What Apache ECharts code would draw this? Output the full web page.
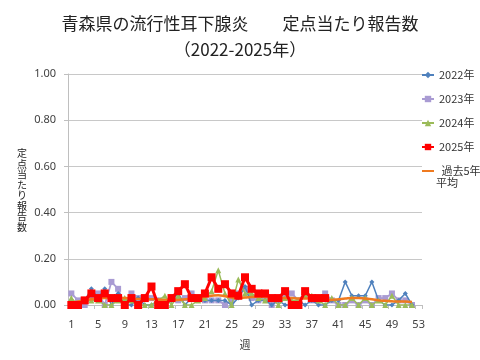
<!DOCTYPE html>
<html><head><meta charset="utf-8">
<script src="https://cdn.jsdelivr.net/npm/echarts@6/dist/echarts.min.js"></script>
<style>html,body{margin:0;padding:0;background:#fff}#c{width:480px;height:360px}</style>
</head><body><div id="c"></div>
<script>
const weeks = Array.from({length:53},(_, i)=>String(i+1));
const yTicks = [0, 0.2, 0.4, 0.6, 0.8, 1.0];
const y2022 = [0.02,0,0.02,0.07,0.03,0.07,0,0.05,0,0,0.03,0,0,0.02,0,0.02,0.05,0,0.03,0.03,0.02,0.02,0.02,0.02,0,0.03,0.08,0,0.02,0.02,0,0.02,0,0,0.02,0,0.02,0,0,0.02,0.02,0.1,0.04,0.04,0.04,0.1,0.02,0,0,0.02,0.05,0];
const y2023 = [0.05,0.02,0,0.03,0.05,0,0.1,0.07,0,0.05,0.03,0.03,0.03,0.02,0,0.03,0.02,0.03,0.05,0.03,0.02,0.02,0.02,0,0.02,0.05,0.07,0.03,0.02,0.03,0,0.02,0.03,0.05,0.02,0.05,0.02,0.02,0.05,0.02,0,0,0.02,0,0.02,0,0.03,0.03,0.05,0.02,0.02,0];
const y2024 = [0.03,0,0.02,0.02,0.02,0,0,0.02,0.03,0.02,0,0,0,0.02,0.04,0,0.04,0,0,0.02,0.03,0.06,0.15,0.05,0,0.11,0.05,0.05,0.03,0.02,0.03,0,0.03,0.02,0.02,0.04,0.04,0.02,0,0.03,0,0,0.03,0,0.03,0,0.02,0,0.04,0,0,0];
const y2025 = [0,0,0.02,0.05,0.03,0.05,0.03,0.03,0,0.03,0,0.03,0.08,0,0,0.03,0.06,0.09,0.03,0.03,0.05,0.12,0.07,0.09,0.05,0.04,0.12,0.07,0.05,0.05,0.03,0.03,0.06,0,0,0.06,0.03,0.03,0.03];
const avg5 = [0.01,0.015,0.02,0.025,0.028,0.03,0.03,0.03,0.03,0.028,0.026,0.025,0.025,0.024,0.022,0.022,0.022,0.025,0.028,0.032,0.036,0.04,0.042,0.038,0.032,0.03,0.032,0.035,0.036,0.035,0.033,0.03,0.03,0.03,0.028,0.028,0.03,0.028,0.024,0.022,0.025,0.028,0.03,0.03,0.028,0.025,0.02,0.018,0.016,0.015,0.015,0.013];
const names = ['2022年','2023年','2024年','2025年','過去5年平均'];

const chart = echarts.init(document.getElementById('c'), null, {renderer:'canvas'});
const jp = '"Noto Sans CJK JP", "Noto Sans", sans-serif';
chart.setOption({
  animation:false,
  backgroundColor:'#fff',
  title:{
    text:'青森県の流行性耳下腺炎　　定点当たり報告数\n（2022-2025年）',
    left:'center', top:6,
    textStyle:{fontFamily:jp, fontSize:17, fontWeight:'normal', color:'#222', lineHeight:25.5}
  },
  legend:{
    orient:'vertical', left:416, top:63,
    itemWidth:12, itemHeight:8, itemGap:10,
    textStyle:{fontFamily:jp, fontSize:11, color:'#333', lineHeight:14},
    formatter: n => n === '過去5年平均' ? ' 過去5年' : n,
    data:[names[0], names[1], names[2], names[3], {name:names[4], itemStyle:{opacity:0}}]
  },
  graphic:[
    {type:'text', left:436, top:177, style:{text:'平均', font:'11px "Noto Sans CJK JP"', fill:'#333'}},
    {type:'text', left:17, top:148, style:{text:'定\n点\n当\nた\nり\n報\n告\n数', font:'10px "Noto Sans CJK JP"', lineHeight:10.5, fill:'#222'}}
  ],
  grid:{left:68, right:58, top:74, bottom:55},
  xAxis:{
    type:'category', data:weeks, boundaryGap:true,
    name:'週', nameLocation:'middle', nameGap:34,
    nameTextStyle:{fontFamily:jp, fontSize:11, color:'#333'},
    axisLine:{lineStyle:{color:'#bfbfbf'}},
    axisTick:{show:true, interval:3, length:4, lineStyle:{color:'#bfbfbf'}},
    axisLabel:{interval:3, margin:14, fontFamily:'"Noto Sans", sans-serif', fontSize:11, color:'#404040'}
  },
  yAxis:{
    type:'value', min:yTicks[0], max:yTicks[yTicks.length-1], interval:0.2,
    axisLine:{show:true, lineStyle:{color:'#bfbfbf'}},
    axisTick:{show:true, length:4, lineStyle:{color:'#bfbfbf'}},
    splitLine:{lineStyle:{color:'#c8c8c8'}},
    axisLabel:{margin:12, formatter:v=>v.toFixed(2), fontFamily:'"Noto Sans", sans-serif', fontSize:11, color:'#404040'}
  },
  series:[
    {name:names[0], type:'line', data:y2022, color:'#4f81bd', symbol:'diamond', symbolSize:5, showAllSymbol:true, lineStyle:{width:1.5}, z:2},
    {name:names[1], type:'line', data:y2023, color:'#a99bd3', symbol:'rect', symbolSize:6, showAllSymbol:true, lineStyle:{width:1.8}, z:1},
    {name:names[2], type:'line', data:y2024, color:'#9bbb59', symbol:'triangle', symbolSize:6, showAllSymbol:true, lineStyle:{width:1.5}, z:3},
    {name:names[3], type:'line', data:y2025, color:'#ff0000', symbol:'rect', symbolSize:8, showAllSymbol:true, lineStyle:{width:3}, z:5},
    {name:names[4], type:'line', data:avg5, color:'#ef7a1f', symbol:'none', smooth:true, lineStyle:{width:2.5}, z:4}
  ]
});
</script></body></html>
